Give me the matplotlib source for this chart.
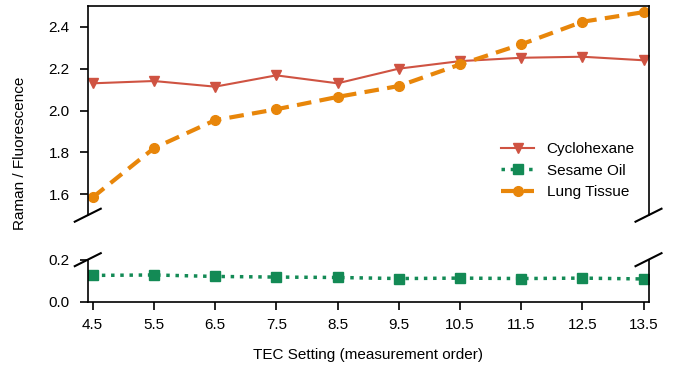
import matplotlib
matplotlib.use("Agg")
import matplotlib.pyplot as plt

plt.rcParams['font.family'] = ['Liberation Sans', 'DejaVu Sans']
plt.rcParams['font.size'] = 11

tec = [4.5, 5.5, 6.5, 7.5, 8.5, 9.5, 10.5, 11.5, 12.5, 13.5]
cyclohexane = [2.130, 2.141, 2.114, 2.168, 2.130, 2.200, 2.236, 2.252, 2.257, 2.240]
sesame_oil = [0.125, 0.127, 0.120, 0.117, 0.115, 0.110, 0.112, 0.110, 0.112, 0.108]
lung_tissue = [1.585, 1.820, 1.954, 2.006, 2.065, 2.117, 2.220, 2.316, 2.424, 2.470]

c_red = '#cf5342'
c_green = '#138a55'
c_orange = '#e8860a'

fig = plt.figure(figsize=(6.83, 3.66), dpi=100)
ax_top = fig.add_axes([0.1285, 0.412, 0.821, 0.572])
ax_bot = fig.add_axes([0.1285, 0.176, 0.821, 0.1145])

for ax in (ax_top, ax_bot):
    ax.plot(tec, cyclohexane, color=c_red, lw=1.5, marker='v', ms=7.5, label='Cyclohexane')
    ax.plot(tec, sesame_oil, color=c_green, lw=2.5, ls=':', marker='s', ms=6.5, label='Sesame Oil')
    ax.plot(tec, lung_tissue, color=c_orange, lw=3, ls=(0, (3.5, 2)), marker='o', ms=7, label='Lung Tissue')
    ax.set_xlim(4.42, 13.58)
    for s in ax.spines.values():
        s.set_linewidth(1.2)
    ax.tick_params(width=1.2, length=6)
    ax.tick_params(axis='y', pad=7)

ax_top.set_ylim(1.5, 2.5)
ax_top.set_yticks([1.6, 1.8, 2.0, 2.2, 2.4])
ax_top.spines['bottom'].set_visible(False)
ax_top.tick_params(axis='x', bottom=False, labelbottom=False)

ax_bot.set_ylim(0, 0.2)
ax_bot.set_yticks([0.0, 0.2])
ax_bot.spines['top'].set_visible(False)
ax_bot.set_xticks(tec)
ax_bot.set_xticklabels([str(t) for t in tec])
ax_bot.tick_params(axis='x', pad=6)
ax_bot.set_xlabel('TEC Setting (measurement order)', labelpad=11)

fig.text(0.03, 0.58, 'Raman / Fluorescence', rotation=90, va='center', ha='center')

# break marks on both spines
inv = fig.transFigure.inverted()
dx, dy = 13, 6.5
for ax, ypos in ((ax_top, 0), (ax_bot, 1)):
    for xpos in (0, 1):
        x0, y0 = ax.transAxes.transform((xpos, ypos))
        p1 = inv.transform((x0 - dx, y0 - dy))
        p2 = inv.transform((x0 + dx, y0 + dy))
        fig.add_artist(plt.Line2D([p1[0], p2[0]], [p1[1], p2[1]], color='black', lw=1.5))

ax_top.legend(loc='lower right', frameon=False, bbox_to_anchor=(1.0, 0.01),
              handlelength=2.2, handletextpad=0.8, labelspacing=0.5)

fig.savefig('out.png', dpi=100)
